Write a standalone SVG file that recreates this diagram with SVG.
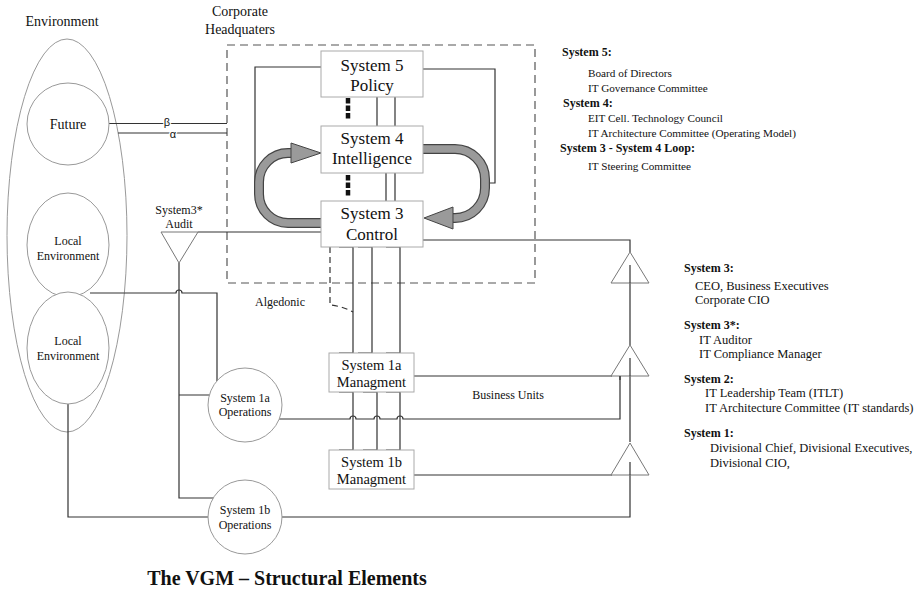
<svg xmlns="http://www.w3.org/2000/svg" width="921" height="591" viewBox="0 0 921 591">
<style>
text{font-family:"Liberation Serif","Times New Roman",serif;fill:#111}
.c{text-anchor:middle}
.box{fill:#fff;stroke:#aaa;stroke-width:1}
.env{fill:#fff;stroke:#999;stroke-width:1}
.ln{fill:none;stroke:#333;stroke-width:1.2}
.dash{fill:none;stroke:#555;stroke-width:1.2;stroke-dasharray:8 5}
.tri{fill:#fff;stroke:#777;stroke-width:1}
.b{font-weight:bold;font-size:12px}
.r{font-size:11.2px}
.r2{font-size:12.5px}
.ao{fill:none;stroke:#444;stroke-width:10}
.ai{fill:none;stroke:#9a9a9a;stroke-width:7.6}
.ah{fill:#9a9a9a;stroke:#444;stroke-width:1}
.dot{fill:none;stroke:#111;stroke-width:4.5;stroke-dasharray:5.5 2}
.gk{font-family:"Liberation Sans",Arial,sans-serif;font-size:11px;stroke:#fff;stroke-width:2.5;paint-order:stroke}
</style>

<g id="environment">
<ellipse cx="67" cy="235.5" rx="60" ry="196.5" fill="none" stroke="#999" stroke-width="1"/>
<text x="62" y="26" class="c" font-size="14">Environment</text>
</g>

<g id="hq">
<rect x="227" y="45" width="308" height="238" class="dash"/>
<text x="240" y="16" class="c" font-size="14">Corporate</text>
<text x="240" y="34" class="c" font-size="14">Headquaters</text>
</g>

<g id="connectors">
<path class="ln" d="M109,123.5 H227 M118,133 H227"/>
<path class="ln" d="M321,67 H255 V192"/>
<path class="ln" d="M423,69 H495 V183 H487"/>
<path class="ln" d="M377,97 V126 M395,97 V126 M386,173 V201 M395,173 V201"/>
<path class="dot" d="M348,98 V119 M348,175 V196"/>
<path class="ln" d="M198,232 H321"/>
<path class="ln" d="M423,240 H630 V252"/>
<path class="ln" d="M339,247 H353 V353 H339 M358,247 H372 V353 H358 M386,247 H400 V353 H386"/>
<path d="M330,247 V305 Q342,306 353,312" fill="none" stroke="#333" stroke-width="1.2" stroke-dasharray="6 4"/>
<path class="ln" d="M339,392 H353 V450 H339 M363,392 H377 V450 H363 M386,392 H400 V450 H386"/>
<path class="ln" d="M630,265 V345 M630,358 V442 M630,462 V517 H68 V404"/>
<path class="ln" d="M414,376 H612 M414,475 H612"/>
<path class="ln" d="M279,419 H350 A3,3 0 0 1 356,419 H374 A3,3 0 0 1 380,419 H397 A3,3 0 0 1 403,419 H620 V376"/>
<path class="ln" d="M90,293 H176 A3,3 0 0 1 182,293 H217 V381"/>
<path class="ln" d="M179,263 V498 H214 M179,395 H210"/>
<path class="ao" d="M321,223 H288 A29,29 0 0 1 259,194 V182 A29,29 0 0 1 288,153 H294"/>
<path class="ai" d="M321,223 H288 A29,29 0 0 1 259,194 V182 A29,29 0 0 1 288,153 H294"/>
<polygon class="ah" points="291,143 321,153 291,163"/>
<path class="ao" d="M423,149 H455 A30,30 0 0 1 485,179 V188 A30,30 0 0 1 455,218 H450"/>
<path class="ai" d="M423,149 H455 A30,30 0 0 1 485,179 V188 A30,30 0 0 1 455,218 H450"/>
<polygon class="ah" points="453,207 424,218 453,229"/>
</g>

<g id="future">
<circle cx="68" cy="124" r="41" class="env"/>
<text x="68" y="129" class="c" font-size="14">Future</text>
</g>
<g id="greek">
<text x="167" y="126" class="c gk">β</text>
<text x="173" y="138" class="c gk">α</text>
</g>

<g id="local-env-1">
<ellipse cx="68" cy="245" rx="41" ry="52" class="env"/>
<text x="68" y="245" class="c" font-size="12">Local</text>
<text x="68" y="260" class="c" font-size="12">Environment</text>
</g>
<g id="local-env-2">
<ellipse cx="68" cy="348" rx="41" ry="56" class="env"/>
<text x="68" y="345" class="c" font-size="12">Local</text>
<text x="68" y="360" class="c" font-size="12">Environment</text>
</g>

<g id="audit">
<polygon class="tri" points="161,232 198,232 179,263"/>
<text x="179" y="214" class="c" font-size="12">System3*</text>
<text x="179" y="228" class="c" font-size="12">Audit</text>
</g>

<g id="system5">
<rect x="321" y="51" width="102" height="46" class="box"/>
<text x="372" y="71" class="c" font-size="17">System 5</text>
<text x="372" y="91" class="c" font-size="17">Policy</text>
</g>
<g id="system4">
<rect x="321" y="126" width="102" height="47" class="box"/>
<text x="372" y="144" class="c" font-size="17">System 4</text>
<text x="372" y="164" class="c" font-size="17">Intelligence</text>
</g>
<g id="system3">
<rect x="321" y="201" width="102" height="46" class="box"/>
<text x="372" y="219" class="c" font-size="17">System 3</text>
<text x="372" y="240" class="c" font-size="17">Control</text>
</g>

<g id="algedonic-label">
<text x="280" y="306" class="c" font-size="12">Algedonic</text>
</g>

<g id="system1a-mgmt">
<rect x="329" y="353" width="85" height="39" class="box"/>
<text x="371.5" y="370" class="c" font-size="14.5">System 1a</text>
<text x="371.5" y="387" class="c" font-size="14.5">Managment</text>
</g>
<g id="system1b-mgmt">
<rect x="329" y="450" width="85" height="39" class="box"/>
<text x="371.5" y="467" class="c" font-size="14.5">System 1b</text>
<text x="371.5" y="484" class="c" font-size="14.5">Managment</text>
</g>

<g id="system1a-ops">
<circle cx="245" cy="405" r="37" class="env"/>
<text x="245" y="402" class="c" font-size="12">System 1a</text>
<text x="245" y="416" class="c" font-size="12">Operations</text>
</g>
<g id="system1b-ops">
<circle cx="245" cy="517" r="37" class="env"/>
<text x="245" y="514" class="c" font-size="12">System 1b</text>
<text x="245" y="529" class="c" font-size="12">Operations</text>
</g>

<g id="business-units">
<text x="508" y="399" class="c" font-size="12">Business Units</text>
</g>

<g id="tri1"><polygon class="tri" points="630,252 611,283 649,283"/></g>
<g id="tri2"><polygon class="tri" points="630,345 611,376 649,376"/></g>
<g id="tri3"><polygon class="tri" points="630,443 611,475 649,475"/></g>
<path class="ln" d="M630,265 V283 M630,358 V376 M630,462 V475 M620,376 V380"/>

<g id="legend-top">
<text x="562" y="56" class="b">System 5:</text>
<text x="588" y="77" class="r">Board of Directors</text>
<text x="588" y="92" class="r">IT Governance Committee</text>
<text x="563" y="107" class="b">System 4:</text>
<text x="588" y="122" class="r">EIT Cell. Technology Council</text>
<text x="588" y="137" class="r">IT Architecture Committee (Operating Model)</text>
<text x="560" y="152" class="b">System 3 - System 4 Loop:</text>
<text x="588" y="170" class="r">IT Steering Committee</text>
</g>

<g id="legend-bottom">
<text x="684" y="272" class="b">System 3:</text>
<text x="695" y="290" class="r2">CEO, Business Executives</text>
<text x="695" y="304" class="r2">Corporate CIO</text>
<text x="684" y="329" class="b">System 3*:</text>
<text x="699" y="344" class="r2">IT Auditor</text>
<text x="699" y="358" class="r2">IT Compliance Manager</text>
<text x="684" y="383" class="b">System 2:</text>
<text x="705" y="397" class="r2">IT Leadership Team (ITLT)</text>
<text x="705" y="412" class="r2">IT Architecture Committee (IT standards)</text>
<text x="684" y="437" class="b">System 1:</text>
<text x="710" y="452" class="r2">Divisional Chief, Divisional Executives,</text>
<text x="710" y="467" class="r2">Divisional CIO,</text>
</g>

<g id="title">
<text x="287" y="585" class="c" font-size="20" font-weight="bold">The VGM – Structural Elements</text>
</g>
</svg>
